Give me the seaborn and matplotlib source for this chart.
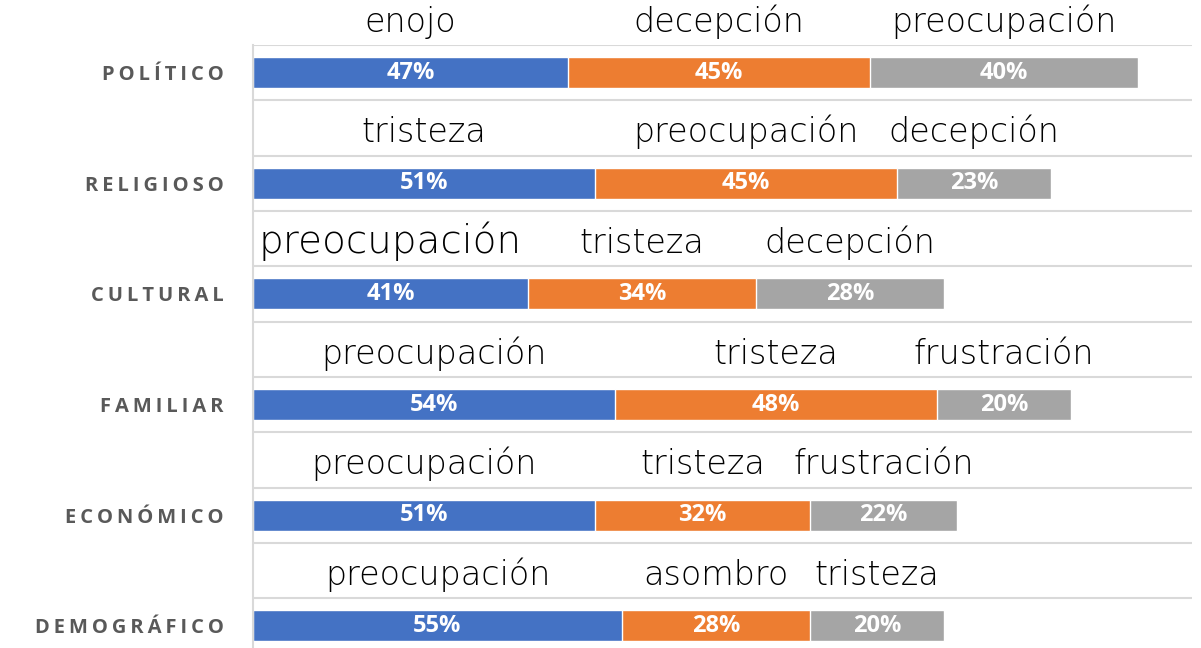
import matplotlib
matplotlib.use("Agg")
import matplotlib.pyplot as plt
import seaborn as sns
import numpy as np

# Data
categorias = ["POLÍTICO", "RELIGIOSO", "CULTURAL", "FAMILIAR", "ECONÓMICO", "DEMOGRÁFICO"]
valores_1 = [47, 51, 41, 54, 51, 55]
valores_2 = [45, 45, 34, 48, 32, 28]
valores_3 = [40, 23, 28, 20, 22, 20]
emocion_1 = ["enojo", "tristeza", "preocupación", "preocupación", "preocupación", "preocupación"]
emocion_2 = ["decepción", "preocupación", "tristeza", "tristeza", "tristeza", "asombro"]
emocion_3 = ["preocupación", "decepción", "decepción", "frustración", "frustración", "tristeza"]

colores = ["#4472C4", "#ED7D31", "#A5A5A5"]

sns.set_style("white")
plt.rcParams['font.family'] = ['DejaVu Sans']

fig = plt.figure(figsize=(12.01, 6.48), dpi=100)
ax = fig.add_axes([253 / 1201, 0, (1192 - 253) / 1201, 603 / 648])

v1 = np.array(valores_1)
v2 = np.array(valores_2)
v3 = np.array(valores_3)

# Stacked bars: draw cumulative totals from longest to shortest
for total, color in zip([v1 + v2 + v3, v1 + v2, v1], colores[::-1]):
    sns.barplot(x=total, y=categorias, orient="h", color=color, width=0.28,
                saturation=1, ax=ax)

ax.set_xlim(0, 140)
ax.set_ylim(5.2, -0.25)

# Gridlines between rows
for k in np.arange(-0.25, 5.5, 0.5):
    ax.axhline(k, color="#D9D9D9", lw=1.5, zorder=0)

# Labels
for i in range(len(categorias)):
    lefts = [0, v1[i], v1[i] + v2[i]]
    vals = [v1[i], v2[i], v3[i]]
    emos = [emocion_1[i], emocion_2[i], emocion_3[i]]
    for j in range(3):
        cx = lefts[j] + vals[j] / 2
        ax.text(cx, i, f"{vals[j]}%", color="white", fontweight="bold",
                fontsize=17, ha="center", va="center",
                family=["Open Sans", "DejaVu Sans"])
        size = 28 if emos[j] == "preocupación" and i == 2 else 24
        ax.text(cx, i - 0.37, emos[j], color="#000000", fontsize=size,
                ha="center", va="baseline", clip_on=False,
                fontweight="light")

# Axis styling
for s in ["top", "right", "bottom"]:
    ax.spines[s].set_visible(False)
ax.spines["left"].set_color("#D9D9D9")
ax.spines["left"].set_linewidth(1.5)
ax.set_xticks([])
ax.set_xlabel("")
ax.set_ylabel("")
ax.set_yticks(range(len(categorias)))
ax.set_yticklabels(["\u2009".join(c) for c in categorias],
                   fontweight="bold", fontsize=14.5, color="#595959",
                   family=["Open Sans", "DejaVu Sans"])
ax.tick_params(axis="y", length=0, pad=21)

fig.savefig("out.png", dpi=100)
